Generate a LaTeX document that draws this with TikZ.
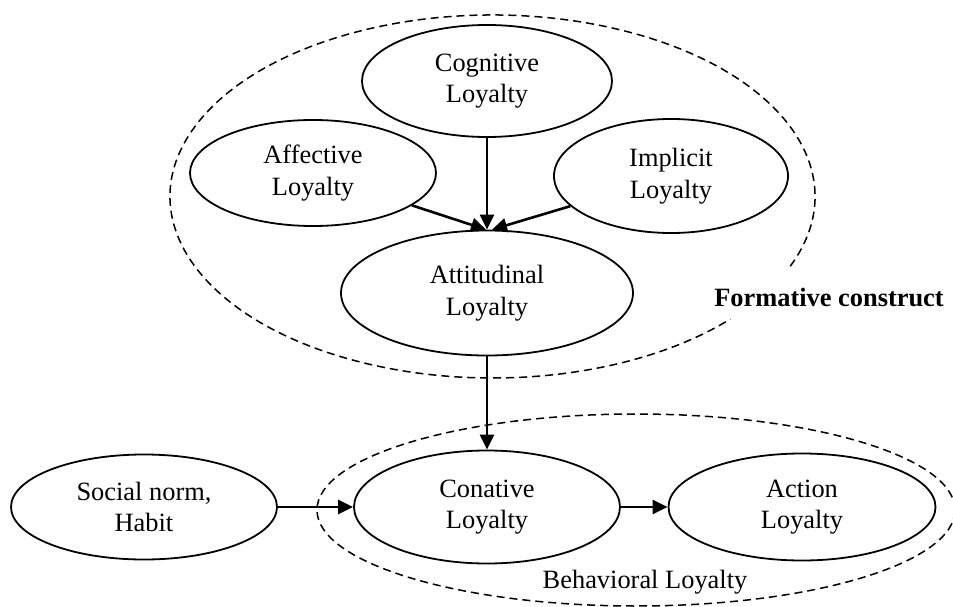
\documentclass[tikz,border=0pt]{standalone}
\usepackage{fontspec}
\setmainfont{Liberation Serif}
\usetikzlibrary{shapes.geometric,arrows.meta}
\begin{document}
\begin{tikzpicture}[x=1pt,y=-1pt,
  oval/.style={draw,ellipse,line width=1.8pt,inner sep=0pt,align=center,
    font=\fontsize{26.4}{31.5}\selectfont},
  arr/.style={line width=2.6pt,-{Triangle[length=15pt,width=14pt]}},
  grp/.style={line width=1.5pt,dash pattern=on 8pt off 5pt},
  lbl/.style={anchor=base,inner sep=0pt,font=\fontsize{26.4}{31.5}\selectfont}]
\useasboundingbox (0,0) rectangle (953,607);

% group outlines
\draw[grp] (492.5,196.5) ++(-22.6:322.5pt and 181.5pt)
  arc[start angle=-22.6, end angle=317.5, x radius=322.5pt, y radius=181.5pt];
\draw[grp] (636,510) ellipse [x radius=319pt, y radius=96pt];

% nodes
\node[oval,minimum width=250pt,minimum height=112pt] (cog) at (487,81) {Cognitive\\Loyalty};
\node[oval,minimum width=246pt,minimum height=106pt] (aff) at (313,173) {Affective\\Loyalty};
\node[oval,minimum width=234pt,minimum height=114pt] (imp) at (671,176) {Implicit\\Loyalty};
\node[oval,minimum width=292pt,minimum height=125pt] (att) at (487,293) {Attitudinal\\Loyalty};
\node[oval,minimum width=266pt,minimum height=105pt] (soc) at (144,507) {Social norm,\\Habit};
\node[oval,minimum width=266pt,minimum height=113pt] (con) at (487,507) {Conative\\Loyalty};
\node[oval,minimum width=267pt,minimum height=107pt] (act) at (802,507) {Action\\Loyalty};

% labels
\node[lbl,font=\fontsize{26.4}{31.5}\selectfont\bfseries] (form) at (829,306) {Formative construct};
\node[lbl] (beh) at (645,588) {Behavioral Loyalty};

% connectors
\draw[arr] (cog) -- (att.north);
\draw[arr] (aff) -- ([xshift=-1pt]att.north);
\draw[arr] (imp) -- ([xshift=5pt]att.north);
\draw[arr] (att) -- (con);
\draw[arr] (soc) -- (con);
\draw[arr] (con) -- (act);
\end{tikzpicture}
\end{document}
